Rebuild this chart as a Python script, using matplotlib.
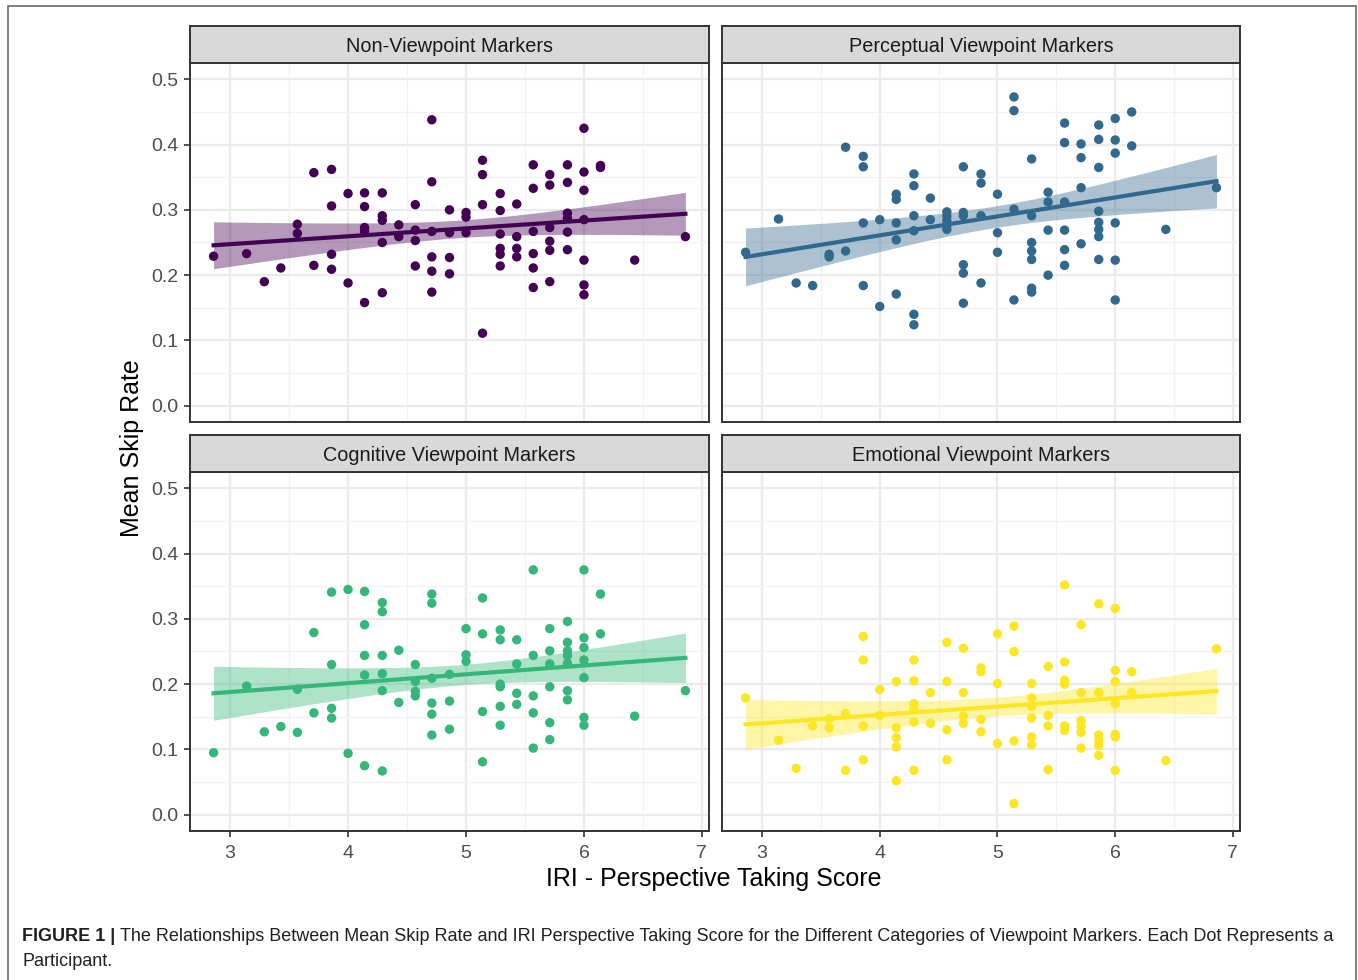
import matplotlib
matplotlib.use('Agg')
import matplotlib.pyplot as plt
from matplotlib.patches import Rectangle
import numpy as np

plt.rcParams['font.family'] = ['Liberation Sans', 'DejaVu Sans']

# IRI perspective taking scores (x levels, steps of 1/7)
scores = [2.86, 3.14, 3.29, 3.43, 3.57, 3.71, 3.86, 4.00, 4.14, 4.29, 4.43, 4.57, 4.71,
          4.86, 5.00, 5.14, 5.29, 5.43, 5.57, 5.71, 5.86, 6.00, 6.14, 6.43, 6.86]

# mean skip rate per participant, grouped by score level
non_viewpoint = [
    [0.229], [0.233], [0.190], [0.211], [0.278, 0.264], [0.357, 0.215],
    [0.362, 0.306, 0.232, 0.209], [0.325, 0.188],
    [0.326, 0.305, 0.273, 0.267, 0.158], [0.326, 0.291, 0.284, 0.250, 0.173],
    [0.277, 0.259], [0.308, 0.269, 0.253, 0.214],
    [0.438, 0.343, 0.267, 0.228, 0.206, 0.174], [0.300, 0.265, 0.227, 0.202],
    [0.296, 0.289, 0.265], [0.376, 0.354, 0.308, 0.111],
    [0.325, 0.299, 0.263, 0.241, 0.232, 0.214], [0.309, 0.259, 0.241, 0.228],
    [0.369, 0.333, 0.267, 0.233, 0.211, 0.181], [0.354, 0.338, 0.273, 0.252, 0.238, 0.190],
    [0.369, 0.342, 0.295, 0.287, 0.266, 0.239],
    [0.425, 0.358, 0.330, 0.285, 0.223, 0.185, 0.170],
    [0.368, 0.365], [0.223], [0.259]]

perceptual = [
    [0.235], [0.286], [0.188], [0.184], [0.232, 0.228], [0.396, 0.237],
    [0.382, 0.366, 0.280, 0.184], [0.285, 0.152],
    [0.324, 0.316, 0.280, 0.254, 0.171], [0.355, 0.337, 0.291, 0.268, 0.140, 0.124],
    [0.318, 0.285], [0.297, 0.290, 0.283, 0.276, 0.270],
    [0.366, 0.296, 0.291, 0.216, 0.203, 0.157], [0.355, 0.341, 0.291, 0.188],
    [0.324, 0.265, 0.235], [0.473, 0.452, 0.301, 0.162],
    [0.378, 0.291, 0.250, 0.237, 0.224, 0.180, 0.174], [0.327, 0.312, 0.269, 0.200],
    [0.433, 0.403, 0.312, 0.269, 0.239, 0.215], [0.401, 0.380, 0.334, 0.248],
    [0.430, 0.408, 0.365, 0.298, 0.281, 0.270, 0.259, 0.224],
    [0.440, 0.407, 0.387, 0.280, 0.223, 0.162],
    [0.450, 0.398], [0.270], [0.334]]

cognitive = [
    [0.095], [0.197], [0.127], [0.135], [0.192, 0.126], [0.279, 0.156],
    [0.341, 0.230, 0.163, 0.148], [0.345, 0.094],
    [0.342, 0.291, 0.244, 0.214, 0.075], [0.325, 0.311, 0.244, 0.216, 0.190, 0.067],
    [0.252, 0.172], [0.230, 0.204, 0.189, 0.182],
    [0.338, 0.324, 0.209, 0.171, 0.154, 0.122], [0.215, 0.174, 0.131],
    [0.285, 0.245, 0.235], [0.332, 0.277, 0.158, 0.081],
    [0.283, 0.268, 0.200, 0.196, 0.166, 0.137], [0.268, 0.231, 0.186, 0.169],
    [0.375, 0.244, 0.182, 0.156, 0.102], [0.285, 0.251, 0.231, 0.196, 0.141, 0.115],
    [0.296, 0.264, 0.251, 0.244, 0.232, 0.190, 0.176],
    [0.375, 0.271, 0.256, 0.237, 0.210, 0.149, 0.137],
    [0.338, 0.277], [0.151], [0.190]]

emotional = [
    [0.179], [0.114], [0.071], [0.136], [0.147, 0.133], [0.155, 0.068],
    [0.273, 0.237, 0.136, 0.084], [0.192, 0.152],
    [0.204, 0.133, 0.118, 0.104, 0.052], [0.237, 0.205, 0.170, 0.163, 0.142, 0.068],
    [0.187, 0.140], [0.264, 0.204, 0.130, 0.084],
    [0.255, 0.187, 0.151, 0.140], [0.225, 0.219, 0.146, 0.127],
    [0.277, 0.201, 0.109], [0.289, 0.250, 0.113, 0.017],
    [0.201, 0.179, 0.166, 0.148, 0.119, 0.107], [0.227, 0.152, 0.136, 0.069],
    [0.352, 0.234, 0.206, 0.200, 0.136, 0.129], [0.291, 0.187, 0.144, 0.135, 0.126, 0.102],
    [0.323, 0.187, 0.122, 0.114, 0.106, 0.091],
    [0.316, 0.221, 0.204, 0.170, 0.123, 0.119, 0.068],
    [0.219, 0.187], [0.083], [0.254]]

titles = ['Non-Viewpoint Markers', 'Perceptual Viewpoint Markers',
          'Cognitive Viewpoint Markers', 'Emotional Viewpoint Markers']
panels = [non_viewpoint, perceptual, cognitive, emotional]
colors = ['#440154', '#31688E', '#35B779', '#FDE725']

W, H = 1358, 980
fig = plt.figure(figsize=(W / 100, H / 100), dpi=100)

def px_rect(x0, y0, x1, y1):
    return [x0 / W, 1 - y1 / H, (x1 - x0) / W, (y1 - y0) / H]

# outer frame of the figure
fig.patches.append(Rectangle((8 / W, -0.01), 1348 / W, 1 - 6 / H + 0.01,
                             transform=fig.transFigure, fill=False,
                             edgecolor='#6b6b6b', linewidth=1.2))

cols = [(190, 709), (722, 1240)]
rows = [(26, 63, 422), (435, 472, 831)]

def fit_band(x, y, xs, t=1.99):
    n = len(x)
    b, a = np.polyfit(x, y, 1)
    resid = y - (a + b * x)
    s = np.sqrt(np.sum(resid ** 2) / (n - 2))
    sxx = np.sum((x - x.mean()) ** 2)
    yhat = a + b * xs
    se = s * np.sqrt(1 / n + (xs - x.mean()) ** 2 / sxx)
    return yhat, yhat - t * se, yhat + t * se

for i, (groups, title, col) in enumerate(zip(panels, titles, colors)):
    r, c = divmod(i, 2)
    x0, x1 = cols[c]
    st, pt, pb = rows[r]
    x = np.array([s for s, g in zip(scores, groups) for _ in g])
    y = np.array([v for g in groups for v in g])

    ax = fig.add_axes(px_rect(x0, pt, x1, pb))
    ax.set_xlim(2.66, 7.06)
    ax.set_ylim(-0.025, 0.525)
    ax.set_xticks([3, 4, 5, 6, 7])
    ax.set_xticks(np.arange(3.5, 7, 1), minor=True)
    ax.set_yticks(np.arange(0, 0.51, 0.1))
    ax.set_yticks(np.arange(0.05, 0.5, 0.1), minor=True)
    ax.grid(which='major', color='#EBEBEB', linewidth=1.6, zorder=0)
    ax.grid(which='minor', color='#F2F2F2', linewidth=0.9, zorder=0)
    ax.set_axisbelow(True)
    for sp in ax.spines.values():
        sp.set_color('#333333')
        sp.set_linewidth(1.4)
    ax.tick_params(which='major', length=4, width=1.2, color='#333333',
                   labelcolor='#4D4D4D', labelsize=14, pad=4.5)
    ax.tick_params(axis='x', which='major', pad=6)
    ax.tick_params(which='minor', length=0)
    ax.set_yticklabels(['0.0', '0.1', '0.2', '0.3', '0.4', '0.5'])
    if c == 1:
        ax.tick_params(axis='y', which='major', left=False, labelleft=False)
    if r == 0:
        ax.tick_params(axis='x', which='major', bottom=False, labelbottom=False)

    xs = np.linspace(x.min(), x.max(), 80)
    yhat, lo, hi = fit_band(x, y, xs)
    ax.scatter(x, y, s=46, color=col, edgecolors='none', zorder=3)
    ax.fill_between(xs, lo, hi, color=col, alpha=0.4, linewidth=0, zorder=4)
    ax.plot(xs, yhat, color=col, linewidth=3, zorder=5)

    sax = fig.add_axes(px_rect(x0, st, x1, pt))
    sax.set_facecolor('#D9D9D9')
    sax.set_xticks([])
    sax.set_yticks([])
    for sp in sax.spines.values():
        sp.set_color('#333333')
        sp.set_linewidth(1.4)
    sax.text(0.5, 0.45, title, ha='center', va='center', fontsize=14.3,
             color='#1A1A1A', transform=sax.transAxes)

fig.text(714 / W, 1 - 879 / H, 'IRI - Perspective Taking Score', ha='center',
         va='center', fontsize=18, color='black')
fig.text(132 / W, 1 - 448 / H, 'Mean Skip Rate', ha='center', va='center',
         rotation=90, fontsize=18, color='black')

# caption
cap_font = ['Liberation Sans', 'DejaVu Sans']
t1 = fig.text(22 / W, 1 - 936 / H, 'FIGURE 1 |', ha='left', va='center',
              fontsize=13.0, fontweight='bold', color='#231F20', family=cap_font)
fig.canvas.draw()
bb = t1.get_window_extent(renderer=fig.canvas.get_renderer())
fig.text(bb.x1 / W + 5 / W, 1 - 936 / H,
         'The Relationships Between Mean Skip Rate and IRI Perspective Taking Score for the '
         'Different Categories of Viewpoint Markers. Each Dot Represents a',
         ha='left', va='center', fontsize=13.0, color='#231F20', family=cap_font)
fig.text(22 / W, 1 - 961 / H, 'Participant.', ha='left', va='center',
         fontsize=13.0, color='#231F20', family=cap_font)

fig.savefig('out.png', dpi=100)
